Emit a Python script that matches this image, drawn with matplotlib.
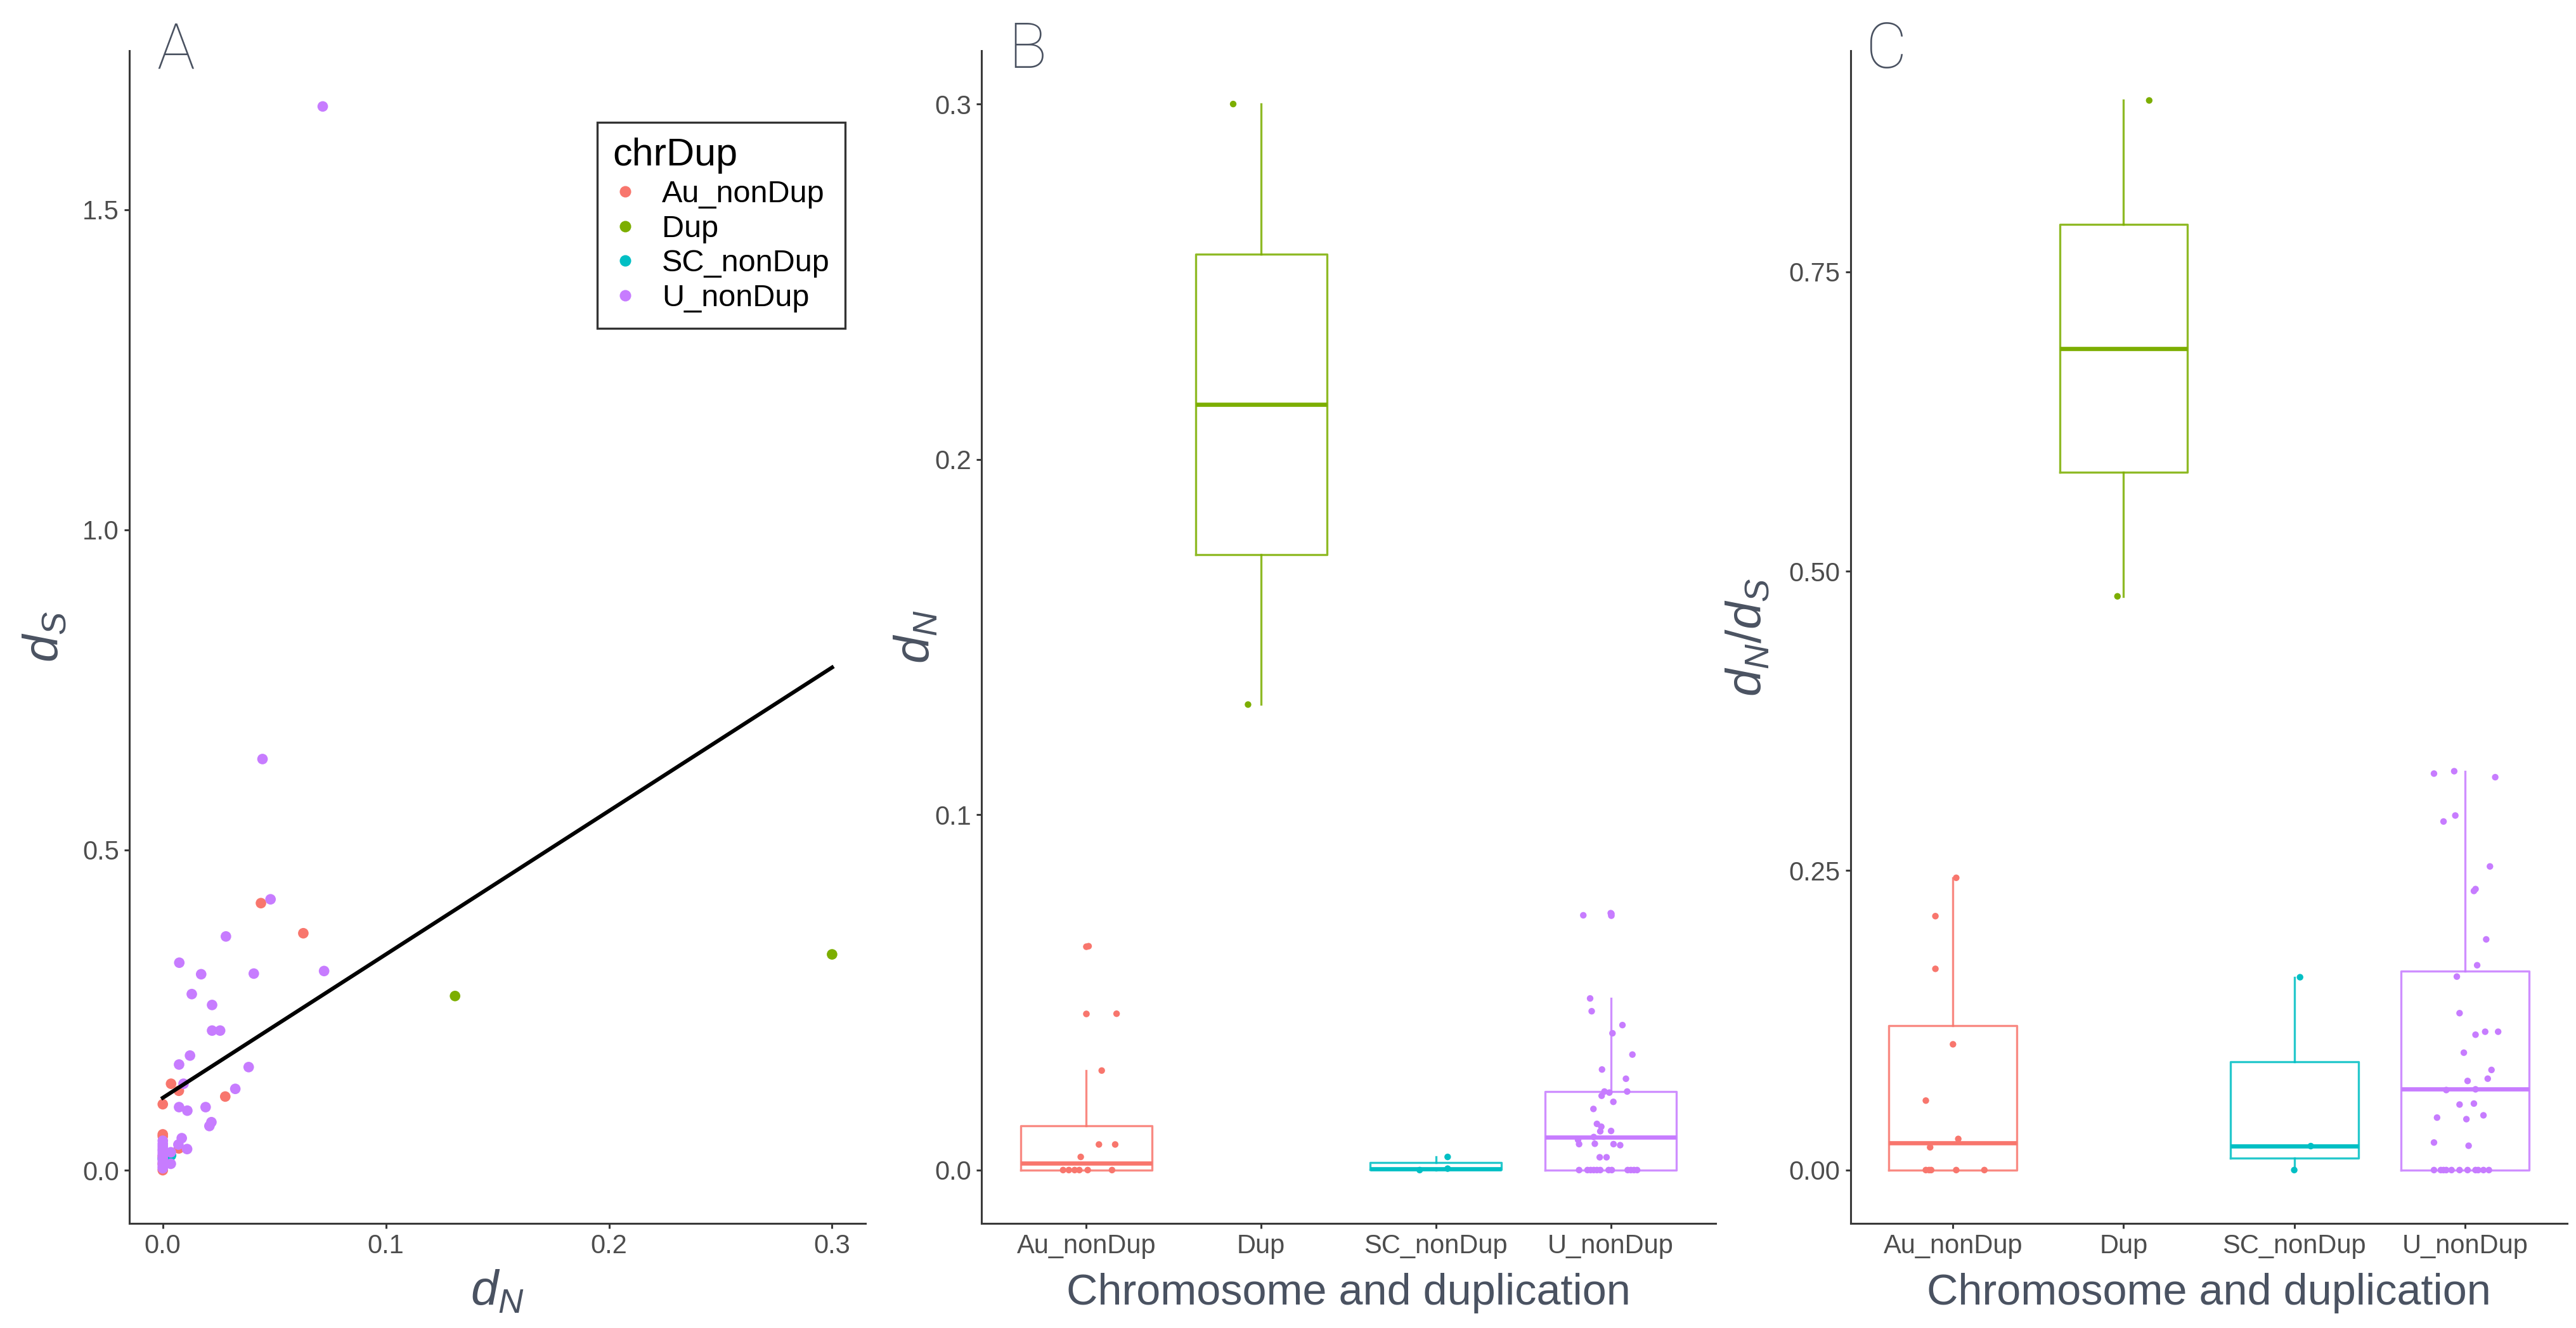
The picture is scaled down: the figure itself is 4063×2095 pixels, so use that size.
import numpy as np
import matplotlib
matplotlib.use("Agg")
import matplotlib.pyplot as plt
from matplotlib.lines import Line2D

plt.rcParams["font.family"] = ["Liberation Sans", "DejaVu Sans"]
plt.rcParams["mathtext.fontset"] = "custom"
plt.rcParams["mathtext.rm"] = "Liberation Sans"
plt.rcParams["mathtext.it"] = "Liberation Sans:italic"

# ---- data ----
groups = ["Au_nonDup", "Dup", "SC_nonDup", "U_nonDup"]

# dN / dS per gene, by group
au_dn = [0.063, 0.044, 0.028, 0.0072, 0.0072, 0.0037, 0, 0, 0, 0, 0, 0]
au_ds = [0.370, 0.417, 0.115, 0.124, 0.034, 0.135, 0.103, 0.056, 0.053, 0.022, 0.010, 0.0]
dup_dn = [0.300, 0.131]
dup_ds = [0.337, 0.272]
sc_dn = [0.0037, 0.0004, 0.0]
sc_ds = [0.023, 0.020, 0.018]
u_dn = [0.0717, 0.0723, 0.0483, 0.0447, 0.0408, 0.0385, 0.0325, 0.0283, 0.0257,
        0.0221, 0.0221, 0.0218, 0.0209, 0.0192, 0.0172, 0.0130, 0.0122, 0.0110,
        0.0109, 0.0093, 0.0085, 0.0074, 0.0073, 0.0073, 0.0070, 0.0036, 0.0036,
        0, 0, 0, 0, 0, 0, 0, 0, 0, 0, 0, 0]
u_ds = [1.661, 0.311, 0.423, 0.642, 0.307, 0.161, 0.127, 0.365, 0.218,
        0.258, 0.218, 0.075, 0.069, 0.0985, 0.306, 0.275, 0.179, 0.093,
        0.033, 0.135, 0.050, 0.324, 0.165, 0.0985, 0.040, 0.010, 0.028,
        0.046, 0.041, 0.037, 0.033, 0.030, 0.026, 0.022, 0.018, 0.014, 0.010, 0.006, 0.003]

# dN/dS per group (panel C)
au_ratio = [0.244, 0.212, 0.168, 0.105, 0.058, 0.026, 0.019, 0, 0, 0, 0, 0]
dup_ratio = [0.893, 0.479]
sc_ratio = [0.161, 0.020, 0.0]
u_ratio = [0.331, 0.333, 0.328, 0.291, 0.296, 0.2535, 0.233, 0.2346, 0.1926, 0.171,
           0.1615, 0.131, 0.113, 0.1155, 0.1155, 0.098, 0.0836, 0.0744, 0.0763, 0.0668,
           0.0674, 0.0547, 0.0555, 0.0438, 0.0425, 0.0457, 0.023, 0.0203,
           0, 0, 0, 0, 0, 0, 0, 0, 0, 0, 0]

# lm fit (dS ~ dN) as drawn in panel A
fit_intercept = 0.113
fit_slope = 2.24

# horizontal jitter of points as seen in panels B and C
au_jit_b = [0.013, 0.173, 0.088, 0.072, 0.165, -0.032, -0.133, -0.067, -0.040, 0.008, 0.147, -0.10]
dup_jit_b = [-0.16, -0.075]
sc_jit_b = [0.067, 0.067, -0.093]
u_jit_b = [-0.157, 0.0, -0.118, -0.109, 0.067, 0.010, 0.124, -0.050, 0.087, 0.094,
           -0.036, -0.008, -0.052, 0.015, -0.099, -0.079, -0.054, 0.002, -0.060, -0.097,
           -0.187, -0.091, -0.181, 0.016, 0.054, -0.063, -0.024,
           -0.181, -0.133, -0.115, -0.097, -0.079, -0.060, -0.012, 0.006, 0.097, 0.115, 0.133, 0.151]
au_jit_c = [0.019, -0.103, -0.103, 0.0, -0.159, 0.031, -0.134, -0.159, -0.128, 0.019, 0.184, -0.14]
dup_jit_c = [0.15, -0.036]
sc_jit_c = [0.034, 0.097, 0.0]
u_jit_c = [-0.181, -0.0625, 0.178, -0.125, -0.056, 0.147, 0.053, 0.0625, 0.125, 0.072,
           -0.047, -0.031, 0.0625, 0.119, 0.195, -0.006, 0.156, 0.016, 0.134, -0.109,
           0.0625, -0.031, 0.053, -0.163, 0.009, 0.109, -0.181, 0.022,
           -0.181, -0.141, -0.109, -0.078, -0.031, 0.016, 0.0625, 0.078, 0.141, -0.125, 0.109]

colors = ["#F8766D", "#7CAE00", "#00BFC4", "#C77CFF"]
dn = [au_dn, dup_dn, sc_dn, u_dn]
ds = [au_ds, dup_ds, sc_ds, u_ds]
ratio = [au_ratio, dup_ratio, sc_ratio, u_ratio]
jit_b = [au_jit_b, dup_jit_b, sc_jit_b, u_jit_b]
jit_c = [au_jit_c, dup_jit_c, sc_jit_c, u_jit_c]

txt_col = "#4a5261"
tick_col = "#4D4D4D"
line_col = "#3a3a3a"

fig = plt.figure(figsize=(4063 / 200, 2095 / 200), dpi=200)
bot, hgt = 0.0788, 0.883
axA = fig.add_axes([0.0502, bot, 0.2858, hgt])
axB = fig.add_axes([0.3810, bot, 0.2850, hgt])
axC = fig.add_axes([0.7184, bot, 0.2782, hgt])


def style(ax):
    for s in ["top", "right"]:
        ax.spines[s].set_visible(False)
    for s in ["left", "bottom"]:
        ax.spines[s].set_color(line_col)
        ax.spines[s].set_linewidth(1.1)
    ax.tick_params(colors=line_col, labelcolor=tick_col, labelsize=15,
                   width=1.1, length=2.8, pad=3)


# ---- A: dS vs dN scatter ----
for g, x, y, c in zip(groups, dn, ds, colors):
    axA.scatter(x, y, s=36, color=c, edgecolors="none", label=g, zorder=3)
xs = np.array([min(min(v) for v in dn), max(max(v) for v in dn)])
axA.plot(xs, fit_intercept + fit_slope * xs, color="black", lw=2.2, zorder=4)
axA.set_xlim(-0.015, 0.315)
axA.set_ylim(-0.083, 1.748)
axA.set_xticks([0.0, 0.1, 0.2, 0.3])
axA.set_xticklabels(["0.0", "0.1", "0.2", "0.3"])
axA.set_yticks([0.0, 0.5, 1.0, 1.5])
axA.set_yticklabels(["0.0", "0.5", "1.0", "1.5"])
axA.set_xlabel(r"$d_N$", fontsize=28, color=txt_col, labelpad=6)
axA.set_ylabel(r"$d_S$", fontsize=28, color=txt_col, labelpad=8)
style(axA)

handles = [Line2D([], [], marker="o", ls="none", markersize=6.5, color=c,
                  markeredgecolor="none") for c in colors]
leg = axA.legend(handles, groups, title="chrDup", loc="upper left",
                 bbox_to_anchor=(942 / 4063, 1 - 193 / 2095),
                 bbox_transform=fig.transFigure, fontsize=17.5,
                 title_fontsize=22, fancybox=False, frameon=True,
                 handlelength=0.8, handletextpad=0.8, labelspacing=0.2,
                 borderpad=0.5, borderaxespad=0)
leg.get_frame().set_edgecolor("black")
leg.get_frame().set_linewidth(1.2)
leg._legend_box.align = "left"


# ---- B and C: box + jitter ----
def boxjitter(ax, vals, jits):
    for i, (v, j, c) in enumerate(zip(vals, jits, colors)):
        pos = i + 1
        ax.boxplot([v], positions=[pos], widths=0.75, showcaps=False,
                   boxprops=dict(color=c, lw=1.2, alpha=0.85),
                   whiskerprops=dict(color=c, lw=1.2, alpha=0.85),
                   medianprops=dict(color=c, lw=2.4),
                   flierprops=dict(marker="o", markersize=3.8, markerfacecolor=c,
                                   markeredgecolor="none"),
                   manage_ticks=False)
        ax.scatter(pos + np.array(j), v, s=14, color=c, edgecolors="none", zorder=3)
    ax.set_xlim(0.4, 4.6)
    ax.set_xticks([1, 2, 3, 4])
    ax.set_xticklabels(groups)
    ax.set_xlabel("Chromosome and duplication", fontsize=24.6, color=txt_col, labelpad=8)
    style(ax)


boxjitter(axB, dn, jit_b)
axB.set_ylim(-0.015, 0.315)
axB.set_yticks([0.0, 0.1, 0.2, 0.3])
axB.set_yticklabels(["0.0", "0.1", "0.2", "0.3"])
axB.set_ylabel(r"$d_N$", fontsize=28, color=txt_col, labelpad=-3)

boxjitter(axC, ratio, jit_c)
axC.set_ylim(-0.0445, 0.9345)
axC.set_yticks([0.0, 0.25, 0.5, 0.75])
axC.set_yticklabels(["0.00", "0.25", "0.50", "0.75"])
axC.set_ylabel(r"$d_N/d_S$", fontsize=28, color=txt_col, labelpad=10)

# panel tags (thin face, like Helvetica Light)
for lab, x in zip(["A", "B", "C"], [0.0608, 0.3913, 0.7243]):
    fig.text(x, 1 - 107 / 2095, lab, fontsize=36, color=txt_col,
             ha="left", va="baseline", family=["Roboto", "Liberation Sans"],
             weight="light")

fig.savefig("out.png", dpi=200)
